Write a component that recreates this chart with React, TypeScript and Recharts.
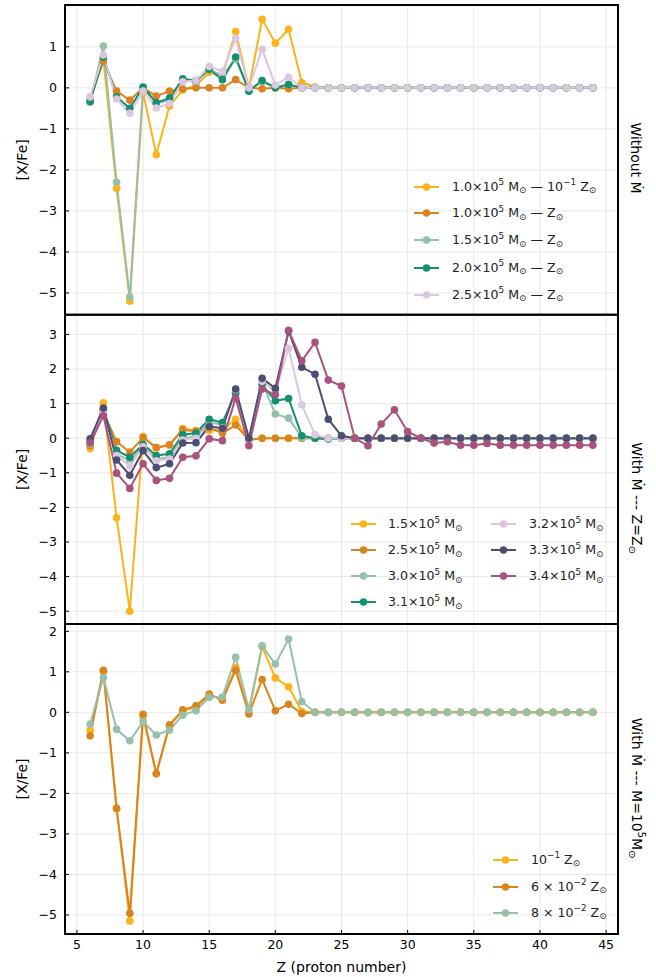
import React from 'react';
import { LineChart, Line, XAxis, YAxis, CartesianGrid, ReferenceArea, Legend, Label } from 'recharts';

const FONT = '"DejaVu Sans", "Liberation Sans", sans-serif';

// ---------- data ----------
const protonNumber = [6, 7, 8, 9, 10, 11, 12, 13, 14, 15, 16, 17, 18, 19, 20, 21, 22, 23, 24, 25, 26, 27, 28, 29, 30, 31, 32, 33, 34, 35, 36, 37, 38, 39, 40, 41, 42, 43, 44];
const xTicks = [5, 10, 15, 20, 25, 30, 35, 40, 45];

// Panel 1: Without Mdot
const p1Gold = [-0.25, 0.7, -2.45, -5.2, -0.1, -1.63, -0.44, -0.05, 0.05, 0.38, 0.3, 1.37, 0.0, 1.67, 1.09, 1.43, 0.13, 0.02, 0, 0, 0, 0, 0, 0, 0, 0, 0, 0, 0, 0, 0, 0, 0, 0, 0, 0, 0, 0, 0];
const p1Orange = [-0.28, 0.65, -0.08, -0.3, 0.0, -0.2, -0.08, -0.03, 0.0, 0.0, 0.0, 0.2, 0.0, -0.02, 0.0, -0.02, 0.0, 0.0, 0, 0, 0, 0, 0, 0, 0, 0, 0, 0, 0, 0, 0, 0, 0, 0, 0, 0, 0, 0, 0];
const p1Sage = [-0.35, 1.02, -2.3, -5.1, 0.0, -0.38, -0.3, 0.18, 0.15, 0.45, 0.3, 0.7, -0.05, 0.15, 0.02, 0.08, 0.0, 0.0, 0, 0, 0, 0, 0, 0, 0, 0, 0, 0, 0, 0, 0, 0, 0, 0, 0, 0, 0, 0, 0];
const p1Green = [-0.33, 0.75, -0.22, -0.5, 0.02, -0.36, -0.25, 0.22, 0.18, 0.45, 0.2, 0.75, -0.08, 0.18, 0.0, 0.08, 0.0, 0.0, 0, 0, 0, 0, 0, 0, 0, 0, 0, 0, 0, 0, 0, 0, 0, 0, 0, 0, 0, 0, 0];
const p1Lavender = [-0.22, 0.8, -0.27, -0.62, -0.08, -0.49, -0.38, 0.15, 0.18, 0.52, 0.4, 1.21, 0.0, 0.94, 0.07, 0.26, 0.0, 0.0, 0, 0, 0, 0, 0, 0, 0, 0, 0, 0, 0, 0, 0, 0, 0, 0, 0, 0, 0, 0, 0];

// Panel 2: With Mdot, Z = Zsun
const p2Gold = [-0.3, 1.02, -2.3, -5.0, 0.05, -0.28, -0.2, 0.28, 0.22, 0.22, 0.25, 0.55, -0.05, 0.0, 0.0, 0.0, 0.0, 0.0, 0, 0, 0, 0, 0, 0, 0, 0, 0, 0, 0, 0, 0, 0, 0, 0, 0, 0, 0, 0, 0];
const p2Orange = [-0.22, 0.75, -0.1, -0.4, 0.02, -0.27, -0.19, 0.24, 0.2, 0.3, 0.15, 0.38, -0.05, 0.0, 0.0, 0.0, 0.0, 0.0, 0, 0, 0, 0, 0, 0, 0, 0, 0, 0, 0, 0, 0, 0, 0, 0, 0, 0, 0, 0, 0];
const p2Sage = [-0.15, 0.8, -0.45, -0.65, -0.25, -0.6, -0.55, 0.0, 0.05, 0.45, 0.4, 1.35, -0.05, 1.6, 0.7, 0.58, 0.02, 0.0, 0, 0, 0, 0, 0, 0, 0, 0, 0, 0, 0, 0, 0, 0, 0, 0, 0, 0, 0, 0, 0];
const p2Green = [-0.1, 0.82, -0.35, -0.55, -0.18, -0.5, -0.45, 0.1, 0.15, 0.55, 0.45, 1.3, -0.05, 1.55, 1.08, 1.15, 0.07, 0.0, -0.02, 0, 0, 0, 0, 0, 0, 0, 0, 0, 0, 0, 0, 0, 0, 0, 0, 0, 0, 0, 0];
const p2Lavender = [-0.1, 0.75, -0.5, -0.8, -0.25, -0.65, -0.6, -0.05, 0.0, 0.35, 0.3, 1.4, -0.1, 1.65, 1.35, 2.6, 0.96, 0.1, 0, 0, 0, 0, 0, 0, 0, 0, 0, 0, 0, 0, 0, 0, 0, 0, 0, 0, 0, 0, 0];
const p2Navy = [-0.02, 0.87, -0.63, -1.07, -0.36, -0.85, -0.74, -0.14, -0.13, 0.34, 0.29, 1.42, 0.0, 1.73, 1.44, 3.1, 2.05, 1.85, 0.55, 0.07, 0, 0, 0, 0, 0, 0, 0, 0, 0, 0, 0, 0, 0, 0, 0, 0, 0, 0, 0];
const p2Mauve = [-0.13, 0.65, -1.01, -1.45, -0.74, -1.22, -1.16, -0.55, -0.51, -0.02, -0.07, 1.16, -0.22, 1.42, 1.26, 3.12, 2.24, 2.77, 1.68, 1.51, 0.0, -0.22, 0.41, 0.82, 0.19, 0.0, -0.14, -0.1, -0.2, -0.2, -0.15, -0.2, -0.2, -0.2, -0.2, -0.2, -0.2, -0.2, -0.2];

// Panel 3: With Mdot, M = 1e5 Msun
const p3Gold = [-0.44, 1.0, -2.38, -5.15, -0.1, -1.52, -0.34, 0.04, 0.12, 0.42, 0.33, 1.1, 0.0, 1.62, 0.85, 0.63, 0.02, 0.0, 0, 0, 0, 0, 0, 0, 0, 0, 0, 0, 0, 0, 0, 0, 0, 0, 0, 0, 0, 0, 0];
const p3Orange = [-0.58, 1.04, -2.37, -4.96, -0.05, -1.51, -0.31, 0.06, 0.16, 0.45, 0.3, 1.04, -0.04, 0.81, 0.04, 0.2, -0.03, 0.0, 0, 0, 0, 0, 0, 0, 0, 0, 0, 0, 0, 0, 0, 0, 0, 0, 0, 0, 0, 0, 0];
const p3Sage = [-0.29, 0.86, -0.42, -0.7, -0.23, -0.56, -0.44, -0.07, 0.04, 0.37, 0.38, 1.36, 0.07, 1.64, 1.19, 1.81, 0.26, 0.0, 0, 0, 0, 0, 0, 0, 0, 0, 0, 0, 0, 0, 0, 0, 0, 0, 0, 0, 0, 0, 0];

const p1Labels = [
  '1.0×10^{5} M_{⊙} — 10^{−1} Z_{⊙}',
  '1.0×10^{5} M_{⊙} —  Z_{⊙}',
  '1.5×10^{5} M_{⊙} —  Z_{⊙}',
  '2.0×10^{5} M_{⊙} —  Z_{⊙}',
  '2.5×10^{5} M_{⊙} —  Z_{⊙}',
];
const p2Labels = ['1.5×10^{5} M_{⊙}', '2.5×10^{5} M_{⊙}', '3.0×10^{5} M_{⊙}', '3.1×10^{5} M_{⊙}', '3.2×10^{5} M_{⊙}', '3.3×10^{5} M_{⊙}', '3.4×10^{5} M_{⊙}'];
const p3Labels = ['10^{−1} Z_{⊙}', '6 × 10^{−2} Z_{⊙}', '8 × 10^{−2} Z_{⊙}'];

const panelTitles = ['Without Ṁ', 'With Ṁ --- Z=Z_{⊙}', 'With Ṁ --- M=10^{5}M_{⊙}'];

// ---------- styling ----------
const C = {
  gold: '#FDB21A',
  orange: '#D98420',
  sage: '#97C0AB',
  green: '#13906F',
  lavender: '#DCC7E2',
  navy: '#4B4D72',
  mauve: '#A9527D',
};

const X_DOMAIN: [number, number] = [4.1, 45.9];
const LEG_FONT = 12.6;

function build(keys: string[], arrays: number[][]) {
  return protonNumber.map((z, i) => {
    const row: Record<string, number> = { z };
    keys.forEach((k, j) => {
      row[k] = arrays[j][i];
    });
    return row;
  });
}

function rich(s: string, base: number) {
  const parts = s.split(/(\^\{[^}]*\}|_\{[^}]*\})/).filter((p) => p.length > 0);
  return parts.map((p, i) => {
    if (p.startsWith('^{')) {
      return (
        <span key={i} style={{ fontSize: base * 0.7, position: 'relative', top: -base * 0.42 }}>
          {p.slice(2, -1)}
        </span>
      );
    }
    if (p.startsWith('_{')) {
      return (
        <span key={i} style={{ fontSize: base * 0.7, position: 'relative', top: base * 0.22 }}>
          {p.slice(2, -1)}
        </span>
      );
    }
    return <span key={i}>{p}</span>;
  });
}

type LegendItem = { color: string; label: string; x: number; y: number; textX: number };

function LegendBox({ items }: { items: LegendItem[] }) {
  return (
    <div style={{ position: 'absolute', left: 0, top: 0, width: 0, height: 0, overflow: 'visible' }}>
      {items.map((it, i) => (
        <React.Fragment key={i}>
          <svg style={{ position: 'absolute', left: it.x, top: it.y - 5 }} width={25} height={10}>
            <line x1={0} x2={25} y1={5} y2={5} stroke={it.color} strokeWidth={2} />
            <circle cx={12.5} cy={5} r={3.7} fill={it.color} />
          </svg>
          <div
            style={{
              position: 'absolute',
              left: it.textX,
              top: it.y,
              transform: 'translateY(-50%)',
              whiteSpace: 'nowrap',
              fontFamily: FONT,
              fontSize: LEG_FONT,
              lineHeight: '14px',
              color: '#222',
            }}
          >
            {rich(it.label, LEG_FONT)}
          </div>
        </React.Fragment>
      ))}
    </div>
  );
}

const fmt = (v: number) => (v < 0 ? '\u2212' + Math.abs(v) : String(v));

type Series = { key: string; color: string };

type PanelProps = {
  top: number;
  height: number;
  mTop: number;
  mBottom: number;
  xAxisHeight: number;
  showXLabels: boolean;
  domain: [number, number];
  yTicks: number[];
  series: Series[];
  data: Record<string, number>[];
  legend: LegendItem[];
};

function Panel(p: PanelProps) {
  return (
    <div style={{ position: 'absolute', left: 0, top: p.top }}>
      <LineChart
        width={656}
        height={p.height}
        data={p.data}
        margin={{ top: p.mTop, bottom: p.mBottom, left: 8, right: 38 }}
      >
        <CartesianGrid stroke="#e8e8e8" strokeWidth={1} />
        <XAxis
          dataKey="z"
          type="number"
          domain={X_DOMAIN}
          ticks={xTicks}
          interval={0}
          allowDataOverflow
          height={p.xAxisHeight}
          axisLine={false}
          tickLine={{ stroke: '#000', strokeWidth: 1 }}
          tickSize={-4}
          tickMargin={10}
          tickFormatter={p.showXLabels ? (v: number) => String(v) : () => ''}
          tick={{ fill: '#000', fontSize: 12.5, fontFamily: FONT }}
        >
          {p.showXLabels ? (
            <Label
              content={(props: any) => {
                const vb = props.viewBox || { x: 65, y: 314, width: 553 };
                return (
                  <text
                    x={vb.x + vb.width / 2}
                    y={vb.y + 38}
                    textAnchor="middle"
                    fontFamily={FONT}
                    fontSize={14}
                    fill="#000"
                  >
                    Z (proton number)
                  </text>
                );
              }}
            />
          ) : null}
        </XAxis>
        <YAxis
          type="number"
          domain={p.domain}
          ticks={p.yTicks}
          interval={0}
          allowDataOverflow
          width={57}
          axisLine={false}
          tickLine={{ stroke: '#000', strokeWidth: 1 }}
          tickSize={-4}
          tickMargin={12}
          tickFormatter={fmt}
          tick={{ fill: '#000', fontSize: 12.5, fontFamily: FONT }}
        >
          <Label
            content={(props: any) => {
              const vb = props.viewBox || { y: 0, height: p.height };
              const cy = vb.y + vb.height / 2;
              return (
                <text
                  x={22}
                  y={cy}
                  transform={`rotate(-90 22 ${cy})`}
                  textAnchor="middle"
                  dominantBaseline="central"
                  fontFamily={FONT}
                  fontSize={14}
                  fill="#000"
                >
                  [X/Fe]
                </text>
              );
            }}
          />
        </YAxis>
        {p.series.map((s) => (
          <Line
            key={s.key}
            type="linear"
            dataKey={s.key}
            stroke={s.color}
            strokeWidth={2}
            dot={{ r: 3.8, fill: s.color, stroke: s.color, strokeWidth: 0 }}
            activeDot={false}
            isAnimationActive={false}
          />
        ))}
        <ReferenceArea
          x1={X_DOMAIN[0]}
          x2={X_DOMAIN[1]}
          y1={p.domain[0]}
          y2={p.domain[1]}
          fill="none"
          fillOpacity={0}
          stroke="#000"
          strokeWidth={2}
          isFront
        />
        <Legend
          layout="vertical"
          align="center"
          verticalAlign="middle"
          wrapperStyle={{ left: 0, top: 0, width: 0, height: 0 }}
          content={() => <LegendBox items={p.legend} />}
        />
      </LineChart>
    </div>
  );
}

function SideTitle({ text, cy }: { text: string; cy: number }) {
  return (
    <div
      style={{
        position: 'absolute',
        left: 636,
        top: cy,
        transform: 'translate(-50%, -50%) rotate(90deg)',
        whiteSpace: 'nowrap',
        fontFamily: FONT,
        fontSize: 14,
        lineHeight: '16px',
        color: '#000',
      }}
    >
      {rich(text, 14)}
    </div>
  );
}

export default function App() {
  const s1: Series[] = [
    { key: 'a', color: C.gold },
    { key: 'b', color: C.orange },
    { key: 'c', color: C.sage },
    { key: 'd', color: C.green },
    { key: 'e', color: C.lavender },
  ];
  const d1 = build(['a', 'b', 'c', 'd', 'e'], [p1Gold, p1Orange, p1Sage, p1Green, p1Lavender]);
  const l1: LegendItem[] = s1.map((s, i) => ({
    color: s.color,
    label: p1Labels[i],
    x: 414,
    y: [186.5, 213, 240, 267.5, 294.5][i],
    textX: 452,
  }));

  const s2: Series[] = [
    { key: 'a', color: C.gold },
    { key: 'b', color: C.orange },
    { key: 'c', color: C.sage },
    { key: 'd', color: C.green },
    { key: 'e', color: C.lavender },
    { key: 'f', color: C.navy },
    { key: 'g', color: C.mauve },
  ];
  const d2 = build(['a', 'b', 'c', 'd', 'e', 'f', 'g'], [p2Gold, p2Orange, p2Sage, p2Green, p2Lavender, p2Navy, p2Mauve]);
  const rows2 = [214, 240, 266, 292];
  const l2: LegendItem[] = s2.map((s, i) => ({
    color: s.color,
    label: p2Labels[i],
    x: i < 4 ? 351 : 491,
    y: i < 4 ? rows2[i] : rows2[i - 4],
    textX: i < 4 ? 388 : 529,
  }));

  const s3: Series[] = [
    { key: 'a', color: C.gold },
    { key: 'b', color: C.orange },
    { key: 'c', color: C.sage },
  ];
  const d3 = build(['a', 'b', 'c'], [p3Gold, p3Orange, p3Sage]);
  const l3: LegendItem[] = s3.map((s, i) => ({
    color: s.color,
    label: p3Labels[i],
    x: 493,
    y: [239.5, 266.5, 292.5][i],
    textX: 531,
  }));

  return (
    <div style={{ position: 'absolute', left: 0, top: 0, width: 656, height: 977, background: '#fff' }}>
      <Panel
        top={0}
        height={316}
        mTop={5}
        mBottom={1.3}
        xAxisHeight={0}
        showXLabels={false}
        domain={[-5.53, 2.02]}
        yTicks={[-5, -4, -3, -2, -1, 0, 1]}
        series={s1}
        data={d1}
        legend={l1}
      />
      <Panel
        top={310}
        height={316}
        mTop={4.7}
        mBottom={2}
        xAxisHeight={0}
        showXLabels={false}
        domain={[-5.37, 3.57]}
        yTicks={[-5, -4, -3, -2, -1, 0, 1, 2, 3]}
        series={s2}
        data={d2}
        legend={l2}
      />
      <Panel
        top={620}
        height={357}
        mTop={4}
        mBottom={0}
        xAxisHeight={43}
        showXLabels={true}
        domain={[-5.47, 2.18]}
        yTicks={[-5, -4, -3, -2, -1, 0, 1, 2]}
        series={s3}
        data={d3}
        legend={l3}
      />
      <SideTitle text={panelTitles[0]} cy={158} />
      <SideTitle text={panelTitles[1]} cy={498} />
      <SideTitle text={panelTitles[2]} cy={788} />
    </div>
  );
}
